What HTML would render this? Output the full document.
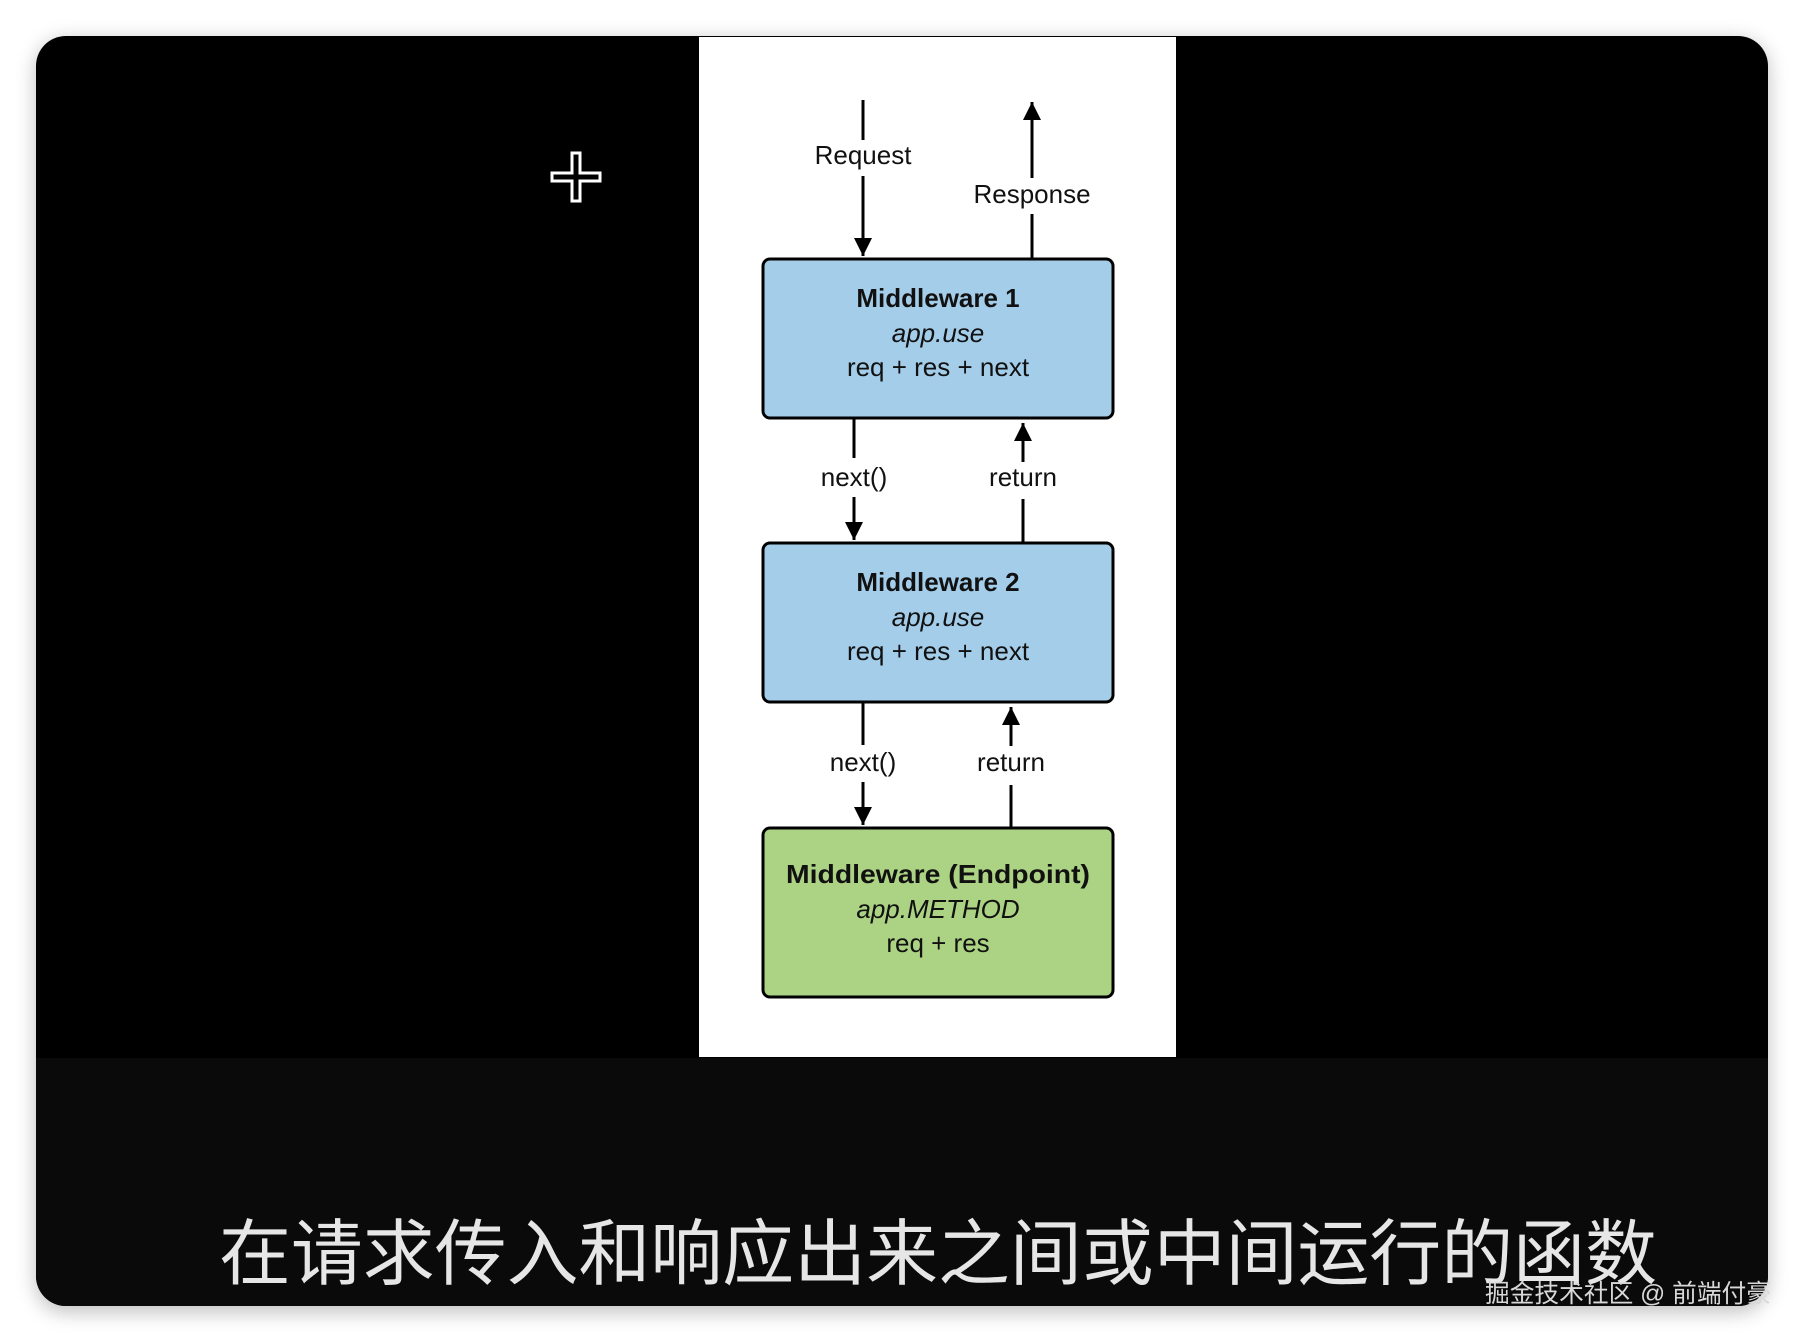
<!DOCTYPE html>
<html><head><meta charset="utf-8"><style>
html,body{margin:0;padding:0;background:#fff;}
body{width:1804px;height:1342px;position:relative;overflow:hidden;}
</style></head><body>
<svg width="1804" height="1342" viewBox="0 0 1804 1342" xmlns="http://www.w3.org/2000/svg" style="position:absolute;left:0;top:0">
<defs>
<filter id="sh" x="-5%" y="-5%" width="110%" height="110%"><feGaussianBlur stdDeviation="10"/></filter>
<marker id="ah" viewBox="0 0 10 10" refX="10" refY="5" markerWidth="8" markerHeight="6" orient="auto" markerUnits="strokeWidth"><path d="M0,0 L10,5 L0,10 z" fill="#000"/></marker>
</defs>
<rect x="36" y="40" width="1732" height="1272" rx="30" fill="#000" opacity="0.25" filter="url(#sh)"/>
<rect x="36" y="36" width="1732" height="1270" rx="30" fill="#000"/>
<path d="M36 1058 H1768 V1276 a30 30 0 0 1 -30 30 H66 a30 30 0 0 1 -30 -30 Z" fill="#0a0a0a"/>
<rect x="699" y="37" width="477" height="1020" fill="#fff"/>
<path d="M572 153 h8 v20 h20 v8 h-20 v20 h-8 v-20 h-20 v-8 h20 z" fill="none" stroke="#fff" stroke-width="3"/>
<g stroke="#000" stroke-width="3" fill="none">
<line x1="863" y1="100" x2="863" y2="140"/>
<line x1="863" y1="176" x2="863" y2="256" marker-end="url(#ah)"/>
<line x1="1032" y1="259" x2="1032" y2="214"/>
<line x1="1032" y1="178" x2="1032" y2="102" marker-end="url(#ah)"/>
<line x1="854" y1="419" x2="854" y2="458"/>
<line x1="854" y1="497" x2="854" y2="540" marker-end="url(#ah)"/>
<line x1="1023" y1="543" x2="1023" y2="499"/>
<line x1="1023" y1="462" x2="1023" y2="423" marker-end="url(#ah)"/>
<line x1="863" y1="703" x2="863" y2="745"/>
<line x1="863" y1="782" x2="863" y2="825" marker-end="url(#ah)"/>
<line x1="1011" y1="828" x2="1011" y2="785"/>
<line x1="1011" y1="746" x2="1011" y2="707" marker-end="url(#ah)"/>
</g>
<rect x="763" y="259" width="350" height="159" rx="7" fill="#a4cdea" stroke="#000" stroke-width="3"/>
<rect x="763" y="543" width="350" height="159" rx="7" fill="#a4cdea" stroke="#000" stroke-width="3"/>
<rect x="763" y="828" width="350" height="169" rx="7" fill="#acd383" stroke="#000" stroke-width="3"/>
<g font-family="Liberation Sans, sans-serif" font-size="26" fill="#111" text-anchor="middle">
<text x="863" y="164">Request</text>
<text x="1032" y="203">Response</text>
<text x="854" y="486">next()</text>
<text x="1023" y="486">return</text>
<text x="863" y="771">next()</text>
<text x="1011" y="771">return</text>
<text x="938" y="307" font-weight="bold">Middleware 1</text>
<text x="938" y="342" font-style="italic">app.use</text>
<text x="938" y="376">req + res + next</text>
<text x="938" y="591" font-weight="bold">Middleware 2</text>
<text x="938" y="626" font-style="italic">app.use</text>
<text x="938" y="660">req + res + next</text>
<text x="938" y="883" font-weight="bold" textLength="304" lengthAdjust="spacingAndGlyphs">Middleware (Endpoint)</text>
<text x="938" y="918" font-style="italic">app.METHOD</text>
<text x="938" y="952">req + res</text>
</g>
<text x="938" y="1279" text-anchor="middle" font-family="Liberation Sans, Noto Sans CJK SC, sans-serif" font-size="72" fill="#e6e6e6" textLength="1438" lengthAdjust="spacingAndGlyphs">在请求传入和响应出来之间或中间运行的函数</text>
<text x="1485" y="1302" font-family="Liberation Sans, Noto Sans CJK SC, sans-serif" font-size="25" fill="#d8d8d8" textLength="286" lengthAdjust="spacingAndGlyphs">掘金技术社区 @ 前端付豪</text>
</svg>
</body></html>
